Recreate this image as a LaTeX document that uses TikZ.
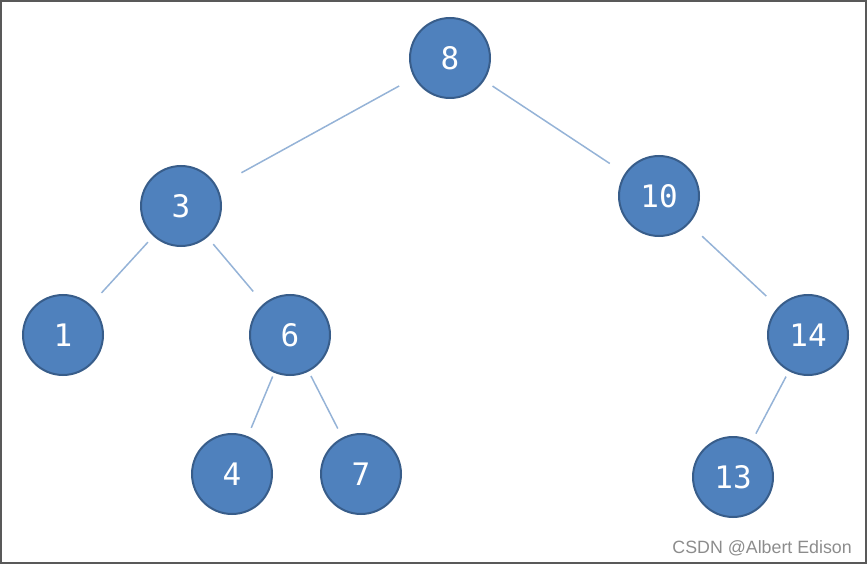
\documentclass[tikz,border=0pt]{standalone}
\usepackage{fontspec}
\setmainfont{Liberation Sans}
\newfontfamily\digitfont{DejaVu Sans Mono}
\usetikzlibrary{positioning}
\definecolor{nodefill}{HTML}{4F81BD}
\definecolor{nodeline}{HTML}{385D8A}
\definecolor{edgeblue}{HTML}{95B3D7}
\tikzset{
  treenode/.style={circle, draw=nodeline, line width=2pt, fill=nodefill, minimum size=80pt, inner sep=0pt, text=white, font=\digitfont\fontsize{31}{36}\selectfont},
  branch/.style={draw=edgeblue, line width=1.5pt},
  mark text/.style={text=black!45, font=\fontsize{17.8}{20}\selectfont, anchor=base east, inner sep=0pt},
}

\begin{document}
\begin{tikzpicture}[on grid]
  \useasboundingbox (0pt,0pt) rectangle (867pt,-564pt);
  \draw[black!65, line width=2pt] (1pt,-1pt) rectangle (866pt,-563pt);

  \node[treenode] (n8) at (450pt,-58pt) {8};
  \node[treenode, below left=148pt and 269pt of n8] (n3) {3};
  \node[treenode, below right=138pt and 209pt of n8] (n10) {10};
  \node[treenode, below left=129pt and 118pt of n3] (n1) {1};
  \node[treenode, below right=129pt and 109pt of n3] (n6) {6};
  \node[treenode, below left=139pt and 58pt of n6] (n4) {4};
  \node[treenode, below right=139pt and 71pt of n6] (n7) {7};
  \node[treenode, below right=139pt and 149pt of n10] (n14) {14};
  \node[treenode, below left=142pt and 75pt of n14] (n13) {13};

  \draw[branch, shorten <=17pt, shorten >=28pt] (n8) -- (n3);
  \draw[branch, shorten <=10pt, shorten >=18pt] (n8) -- (n10);
  \draw[branch, shorten <=8pt, shorten >=16pt] (n3) -- (n1);
  \draw[branch, shorten <=9pt, shorten >=16pt] (n3) -- (n6);
  \draw[branch, shorten <=4pt, shorten >=9pt] (n6) -- (n4);
  \draw[branch, shorten <=5pt, shorten >=10pt] (n6) -- (n7);
  \draw[branch, shorten <=18pt, shorten >=16pt] (n10) -- (n14);
  \draw[branch, shorten <=6pt, shorten >=8pt] (n14) -- (n13);

  \node[mark text] (credit) at (852pt,-553pt) {CSDN @Albert Edison};
\end{tikzpicture}
\end{document}
